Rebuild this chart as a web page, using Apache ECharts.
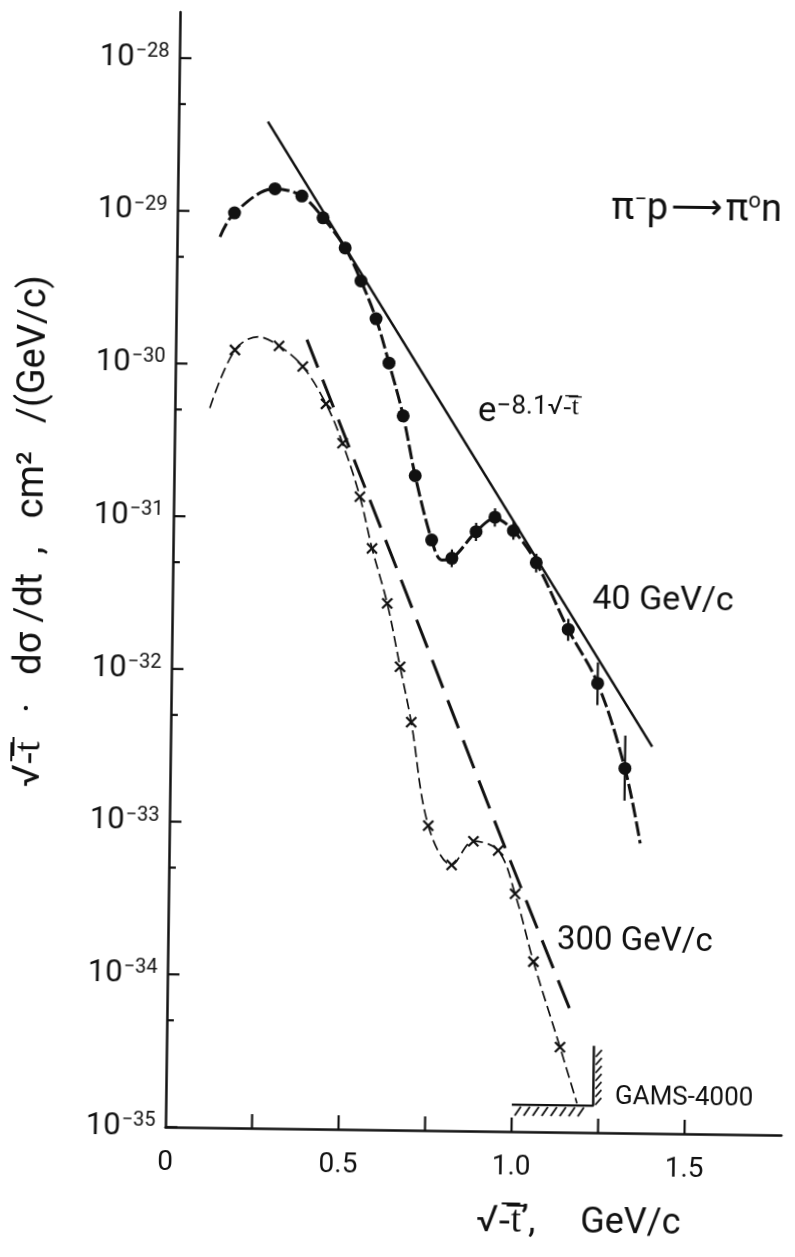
<!DOCTYPE html>
<html>
<head>
<meta charset="utf-8">
<script src="https://cdn.jsdelivr.net/npm/echarts@6/dist/echarts.min.js"></script>
<style>
html, body { margin: 0; padding: 0; background: #ffffff; overflow: hidden; }
#chart { width: 795px; height: 1257px; transform: rotate(0.75deg); transform-origin: 50% 50%; }
</style>
</head>
<body>
<div id="chart"></div>
<script>
// ---------------- data ----------------
const xTickValues = [0.25, 0.5, 0.75, 1.0, 1.25, 1.5];
const xLabelValues = [0, 0.5, 1.0, 1.5];
const xLabelTexts = ['0', '0.5', '1.0', '1.5'];
const yMajorTicks = [1e-35, 1e-34, 1e-33, 1e-32, 1e-31, 1e-30, 1e-29, 1e-28];
const yMinorTicks = [5e-35, 5e-34, 5e-33, 5e-32, 5e-31, 5e-30, 5e-29];
const yMin = 1e-35, yMax = 2e-28;

// 40 GeV/c measured points (filled circles)
const x40 = [0.165, 0.281, 0.359, 0.421, 0.486, 0.533, 0.578, 0.617, 0.660, 0.697, 0.747, 0.806, 0.875, 0.929, 0.983, 1.050, 1.145, 1.232, 1.314];
const y40 = [9.8e-30, 1.42e-29, 1.28e-29, 9.25e-30, 5.9e-30, 3.6e-30, 2.04e-30, 1.05e-30, 4.75e-31, 1.93e-31, 7.35e-32, 5.6e-32, 8.4e-32, 1.05e-31, 8.6e-32, 5.33e-32, 1.96e-32, 8.75e-33, 2.44e-33];
const errX40 = [0.806, 0.875, 0.929, 0.983, 1.050, 1.145, 1.232, 1.314];
const errLo40 = [4.9e-32, 7.3e-32, 9.1e-32, 7.5e-32, 4.6e-32, 1.65e-32, 6.3e-33, 1.5e-33];
const errHi40 = [6.4e-32, 9.6e-32, 1.2e-31, 9.9e-32, 6.1e-32, 2.3e-32, 1.2e-32, 4.0e-33];

// 40 GeV/c curve
const xCurve40 = [0.124, 0.165, 0.281, 0.359, 0.421, 0.486, 0.533, 0.578, 0.617, 0.660, 0.697, 0.747, 0.777, 0.806, 0.875, 0.929, 0.983, 1.050, 1.145, 1.232, 1.314, 1.361];
const yCurve40 = [6.8e-30, 9.8e-30, 1.42e-29, 1.28e-29, 9.25e-30, 5.9e-30, 3.6e-30, 2.04e-30, 1.05e-30, 4.75e-31, 1.93e-31, 7.35e-32, 5.45e-32, 5.6e-32, 8.4e-32, 1.03e-31, 8.6e-32, 5.33e-32, 1.96e-32, 8.75e-33, 2.44e-33, 7.9e-34];

// 300 GeV/c measured points (crosses)
const x300 = [0.1715, 0.2986, 0.368, 0.4366, 0.486, 0.538, 0.575, 0.621, 0.6605, 0.6948, 0.748, 0.817, 0.879, 0.951, 1.0014, 1.057, 1.137];
const y300 = [1.24e-30, 1.33e-30, 9.8e-31, 5.6e-31, 3.1e-31, 1.39e-31, 6.4e-32, 2.8e-32, 1.08e-32, 4.7e-33, 9.9e-34, 5.5e-34, 7.9e-34, 6.9e-34, 3.6e-34, 1.3e-34, 3.6e-35];

// 300 GeV/c curve (thin dashed)
const xCurve300 = [0.101, 0.1715, 0.2385, 0.2986, 0.368, 0.4366, 0.486, 0.538, 0.575, 0.621, 0.6605, 0.6948, 0.748, 0.817, 0.879, 0.951, 1.0014, 1.057, 1.137, 1.188];
const yCurve300 = [5.15e-31, 1.24e-30, 1.52e-30, 1.33e-30, 9.8e-31, 5.6e-31, 3.1e-31, 1.39e-31, 6.4e-32, 2.8e-32, 1.08e-32, 4.7e-33, 9.9e-34, 5.5e-34, 7.9e-34, 6.9e-34, 3.6e-34, 1.3e-34, 3.6e-35, 1.55e-35];

// long-dashed curve
const xLong = [0.379, 0.657, 0.950, 1.165];
const yLong = [1.47e-30, 4.18e-32, 9.4e-34, 6.3e-35];

// exponential line e^{-8.1 sqrt(-t)}
const xExp = [0.258, 1.392];
const yExp = [3.9e-29, 3.4e-33];

// GAMS-4000 limit
const xGams = [1.0, 1.235, 1.235];
const yGams = [1.5e-35, 1.5e-35, 3.7e-35];

// ---------------- chart ----------------
// y axis: linear axis over log10 of the cross-section (one unit = one decade)
const lg = v => Math.log10(v);
const INK = '#111111';
const FONT = 'Roboto';
const pair = (xs, ys) => xs.map((x, i) => [x, lg(ys[i])]);

function lineEl(x1, y1, x2, y2, w) {
  return { type: 'line', shape: { x1: x1, y1: y1, x2: x2, y2: y2 }, style: { stroke: INK, lineWidth: w, lineCap: 'butt' } };
}

const chart = echarts.init(document.getElementById('chart'));

const option = {
  backgroundColor: '#ffffff',
  animation: false,
  grid: { left: 172, right: 7, top: 15, bottom: 127 },
  xAxis: {
    type: 'value', min: 0, max: 1.78, interval: 0.25,
    axisLine: { onZero: false, lineStyle: { color: INK, width: 2.5 } },
    axisTick: { show: false },
    splitLine: { show: false },
    axisLabel: {
      margin: 22, fontFamily: FONT, fontSize: 28, color: INK,
      formatter: function (v) {
        for (let i = 0; i < xLabelValues.length; i++) {
          if (Math.abs(v - xLabelValues[i]) < 1e-6) return xLabelTexts[i];
        }
        return '';
      }
    }
  },
  yAxis: {
    type: 'value', min: lg(yMin), max: lg(yMax), interval: 1,
    axisLine: { onZero: false, lineStyle: { color: INK, width: 2.5 } },
    axisTick: { show: false },
    splitLine: { show: false },
    axisLabel: {
      margin: 10, color: INK, showMaxLabel: false,
      formatter: function (v) {
        const r = Math.round(v);
        if (Math.abs(v - r) > 1e-6) return '';
        return '{b|10}{s|\u2212' + (-r) + '}';
      },
      rich: {
        b: { fontFamily: FONT, fontSize: 31, lineHeight: 32, color: INK },
        s: { fontFamily: FONT, fontSize: 20, verticalAlign: 'top', lineHeight: 32, color: INK, padding: [0, 0, 14, 1] }
      }
    }
  },
  series: [
    {
      type: 'custom', silent: true, z: 5,
      data: yMajorTicks.map(v => [0, lg(v), 12]).concat(yMinorTicks.map(v => [0, lg(v), 7])),
      renderItem: function (params, api) {
        const p = api.coord([0, api.value(1)]);
        return lineEl(p[0], p[1], p[0] + api.value(2), p[1], 2.2);
      }
    },
    {
      type: 'custom', silent: true, z: 5,
      data: xTickValues.map(v => [v, lg(yMin)]),
      renderItem: function (params, api) {
        const p = api.coord([api.value(0), api.value(1)]);
        return lineEl(p[0], p[1], p[0], p[1] - 14, 2.2);
      }
    },
    {
      type: 'line', data: pair(xExp, yExp), showSymbol: false, silent: true,
      lineStyle: { color: INK, width: 2.5 }
    },
    {
      type: 'line', data: pair(xCurve40, yCurve40), showSymbol: false, smooth: 0.35, silent: true,
      lineStyle: { color: INK, width: 3, type: [15, 4] }
    },
    {
      type: 'line', data: pair(xCurve300, yCurve300), showSymbol: false, smooth: 0.35, silent: true,
      lineStyle: { color: INK, width: 1.7, type: [11, 5] }
    },
    {
      type: 'line', data: pair(xLong, yLong), showSymbol: false, smooth: 0.3, silent: true,
      lineStyle: { color: INK, width: 3, type: [30, 13] }
    },
    {
      type: 'line', data: pair(xGams, yGams), showSymbol: false, silent: true,
      lineStyle: { color: INK, width: 2.4 }
    },
    {
      type: 'custom', silent: true,
      data: [[xGams[0], lg(yGams[0]), xGams[1], lg(yGams[1]), lg(yGams[2])]],
      renderItem: function (params, api) {
        const a = api.coord([api.value(0), api.value(1)]);
        const b = api.coord([api.value(2), api.value(3)]);
        const c = api.coord([api.value(2), api.value(4)]);
        const kids = [];
        for (let x = a[0] + 8; x < b[0] - 2; x += 9) {
          kids.push(lineEl(x - 5, a[1] + 11, x + 1, a[1] + 2, 1.8));
        }
        for (let y = c[1] + 4; y < b[1] - 6; y += 8) {
          kids.push(lineEl(b[0] + 2, y + 7, b[0] + 8, y, 1.8));
        }
        return { type: 'group', children: kids };
      }
    },
    {
      type: 'custom', silent: true, z: 4,
      data: errX40.map((x, i) => [x, lg(errLo40[i]), lg(errHi40[i])]),
      renderItem: function (params, api) {
        const p1 = api.coord([api.value(0), api.value(1)]);
        const p2 = api.coord([api.value(0), api.value(2)]);
        return lineEl(p1[0], p1[1], p2[0], p2[1], 2.2);
      }
    },
    {
      type: 'scatter', data: pair(x40, y40), symbol: 'circle', symbolSize: 13, silent: true, z: 6,
      itemStyle: { color: INK, opacity: 1 }
    },
    {
      type: 'custom', silent: true, z: 6,
      data: pair(x300, y300),
      renderItem: function (params, api) {
        const p = api.coord([api.value(0), api.value(1)]);
        const s = 5;
        return { type: 'group', children: [
          lineEl(p[0] - s, p[1] - s, p[0] + s, p[1] + s, 2.2),
          lineEl(p[0] - s, p[1] + s, p[0] + s, p[1] - s, 2.2)
        ] };
      }
    }
  ],
  graphic: [
    // y axis title (rotated)
    {
      type: 'text', x: 31, y: 536, rotation: Math.PI / 2,
      style: {
        text: '\u221A-\u0305t\u0305   \u00B7   d\u03C3 /dt  ,   cm\u00B2   /(GeV/c)',
        fontFamily: FONT, fontSize: 38, fill: INK, align: 'center', verticalAlign: 'middle'
      }
    },
    // x axis title
    {
      type: 'text', x: 484, y: 1221,
      style: {
        text: '\u221A-\u0305t\u0305\u2019,',
        fontFamily: FONT, fontSize: 37, fill: INK, align: 'left', verticalAlign: 'middle'
      }
    },
    {
      type: 'text', x: 588, y: 1221,
      style: {
        text: 'GeV/c',
        fontFamily: FONT, fontSize: 36, fill: INK, align: 'left', verticalAlign: 'middle'
      }
    },
    // reaction
    {
      type: 'text', x: 606, y: 206,
      style: {
        text: '{a|\u03C0}{s|\u2212}{a|p}{r|\u27F6}{a|\u03C0}{s|o}{a|n}',
        verticalAlign: 'middle', align: 'left',
        rich: {
          a: { fontFamily: FONT, fontSize: 38, fill: INK, lineHeight: 40 },
          s: { fontFamily: FONT, fontSize: 22, fill: INK, verticalAlign: 'top', lineHeight: 40 },
          r: { fontFamily: 'DejaVu Sans', fontSize: 36, fill: INK, lineHeight: 40, padding: [0, 3, 0, 3] }
        }
      }
    },
    // exponential label
    {
      type: 'text', x: 475, y: 411,
      style: {
        text: '{e|e}{s|\u22128.1\u221A-\u0305t\u0305}',
        verticalAlign: 'middle', align: 'left',
        rich: {
          e: { fontFamily: FONT, fontSize: 35, fill: INK, lineHeight: 38 },
          s: { fontFamily: FONT, fontSize: 26, fill: INK, verticalAlign: 'top', lineHeight: 38 }
        }
      }
    },
    { type: 'text', x: 592, y: 597, style: { text: '40 GeV/c', fontFamily: FONT, fontSize: 34, fill: INK, verticalAlign: 'middle' } },
    { type: 'text', x: 561, y: 939, style: { text: '300 GeV/c', fontFamily: FONT, fontSize: 33, fill: INK, verticalAlign: 'middle' } },
    { type: 'text', x: 621, y: 1094, style: { text: 'GAMS-4000', fontFamily: FONT, fontSize: 26, fill: INK, verticalAlign: 'middle' } }
  ]
};

chart.setOption(option);
</script>
</body>
</html>
